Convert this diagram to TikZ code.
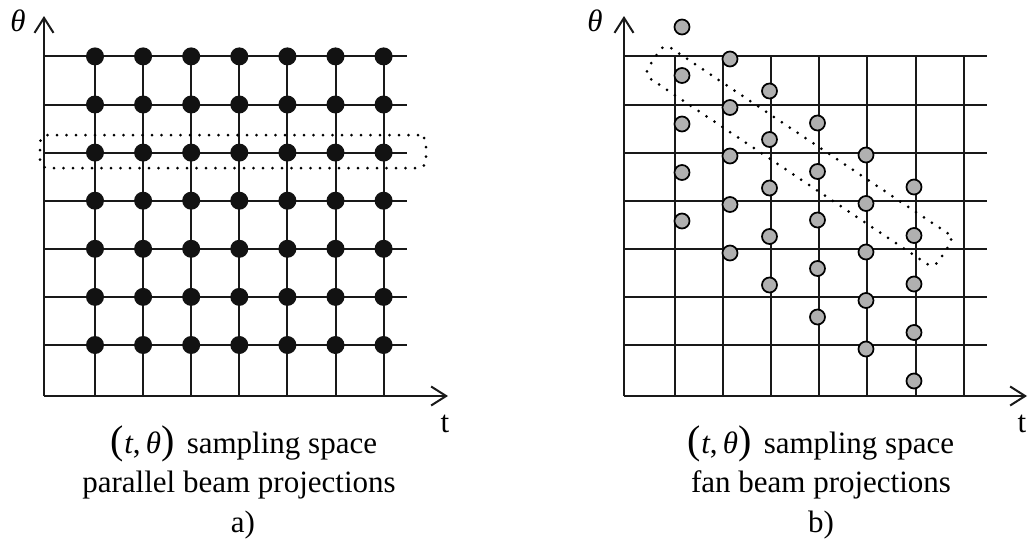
\documentclass[tikz,border=0pt]{standalone}
\usepackage{fontspec}
\setmainfont{Liberation Serif}
\usetikzlibrary{arrows,arrows.meta,calc}
\definecolor{GridClr}{rgb}{0.1,0.1,0.1}
\definecolor{DotClr}{rgb}{0.07,0.07,0.07}
\definecolor{FanClr}{rgb}{0.69,0.69,0.69}
\newcommand{\tthpair}{{\fontsize{40}{40}\selectfont(}\textit{t},\,\textit{θ}{\fontsize{40}{40}\selectfont)}}

\begin{document}
\begin{tikzpicture}[x=1pt,y=-1pt,
  gridline/.style={line width=2pt,color=GridClr},
  axis/.style={gridline,-{Straight Barb[length=15pt,width=19pt]}},
  pardot/.style={circle,fill=DotClr,inner sep=0pt,minimum size=18pt},
  fandot/.style={circle,draw=black,line width=1.7pt,fill=FanClr,inner sep=0pt,minimum size=15pt},
  window/.style={draw,line width=3pt,line cap=round,dash pattern=on 0pt off 9.5pt,rounded corners=8pt,inner sep=0pt},
  lbl/.style={font=\fontsize{31}{38}\selectfont,inner sep=0pt},
  caption/.style={lbl,anchor=base}]
\useasboundingbox (0,0) rectangle (1029,546);

% a) parallel beam
\coordinate (OA) at (44,396);
\coordinate (TA) at (44,16);
\coordinate (XA) at (448,396);
\foreach \k in {0,...,6}{
  \draw[gridline] (44,{345-48.1*\k}) -- (407,{345-48.1*\k});
  \draw[gridline] ({95+48.1*\k},396) -- ({95+48.1*\k},56.4);
}
\draw[axis] (OA) -- (TA);
\draw[axis] (OA) -- (XA);

\foreach \i in {0,...,6}
  \foreach \j in {0,...,6}
    \node[pardot] (a\i\j) at ({95+48.1*\i},{345-48.1*\j}) {};

\node[window,minimum width=386pt,minimum height=33pt] (rowA) at (233,151.6) {};

\node[lbl] (thA) at (18,21) {\textit{θ}};
\node[lbl] (tA) at (445,424) {t};
\node[caption] (capA1) at (244,453) {\tthpair\hspace{.4em}sampling space};
\node[caption] (capA2) at (239,492) {parallel beam projections};
\node[caption] (capA3) at (243,532) {a)};

% b) fan beam
\coordinate (OB) at (624,396);
\coordinate (TB) at (624,16);
\coordinate (XB) at (1027,396);
\foreach \k in {0,...,6}{
  \draw[gridline] (624,{345-48.1*\k}) -- (987,{345-48.1*\k});
  \draw[gridline] ({675+48.1*\k},396) -- ({675+48.1*\k},56.4);
}
\draw[axis] (OB) -- (TB);
\draw[axis] (OB) -- (XB);

\foreach \x/\y [count=\i] in {682/27,730/59,769.5/91,817.5/123,866/155,914/187}
  \foreach \j in {0,...,4}
    \node[fandot] (b\i\j) at (\x,{\y+48.5*\j}) {};

\node[window,minimum width=349pt,minimum height=37pt,rotate=-33.8] (diagB) at (799,156) {};

\node[lbl] (thB) at (595,21) {\textit{θ}};
\node[lbl] (tB) at (1022,424) {t};
\node[caption] (capB1) at (821,453) {\tthpair\hspace{.4em}sampling space};
\node[caption] (capB2) at (821,492) {fan beam projections};
\node[caption] (capB3) at (821,532) {b)};

\end{tikzpicture}
\end{document}
